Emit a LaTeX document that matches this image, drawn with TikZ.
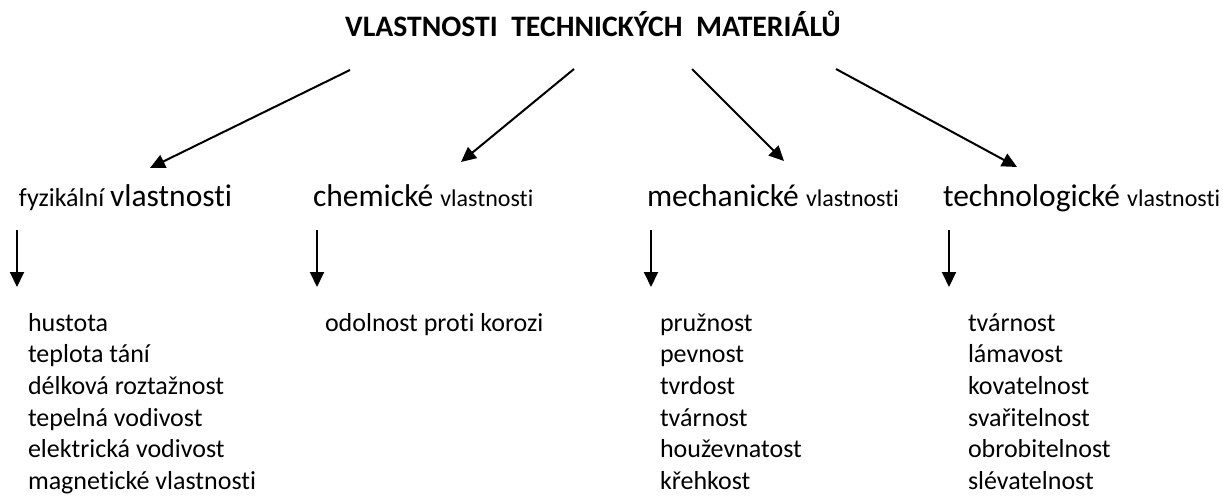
\documentclass[tikz,border=0pt]{standalone}
\usepackage{fontspec}
\setmainfont{Carlito}[Ligatures={NoCommon,NoRequired,NoContextual},Contextuals=NoAlternate]
\usetikzlibrary{arrows.meta}
\tikzset{
  txt/.style={anchor=base west, inner sep=0pt, outer sep=0pt},
  conn/.style={line width=2pt, -{Triangle[length=15pt,width=14pt]}},
}
\newcommand{\itemsize}{\fontsize{26}{31.7}\selectfont}
\newcommand{\titlesize}{\fontsize{29.7}{36}\selectfont}
\newcommand{\bigsize}{\fontsize{31.5}{38}\selectfont}
\newcommand{\smallsize}{\fontsize{24}{29}\selectfont}
\begin{document}
\begin{tikzpicture}[x=1pt,y=-1pt]
\useasboundingbox (0,0) rectangle (1223,497);
\node[anchor=base, inner sep=0pt] (title) at (593,37) {\titlesize\bfseries VLASTNOSTI\ \ TECHNICKÝCH\ \ MATERIÁLŮ};
% categories
\node[txt] (fyz) at (19,207) {\itemsize fyzikální \bigsize vlastnosti};
\node[txt] (chem) at (313,207) {\bigsize chemické \smallsize vlastnosti};
\node[txt] (mech) at (647,207) {\bigsize mechanické \smallsize vlastnosti};
\node[txt] (tech) at (943,207) {\bigsize technologické \smallsize vlastnosti};
% diagonal arrow ends
\coordinate (s1) at (350,70);  \coordinate (e1) at (150,168);
\coordinate (s2) at (574,69);  \coordinate (e2) at (461,162);
\coordinate (s3) at (692,69);  \coordinate (e3) at (784,161);
\coordinate (s4) at (836,69);  \coordinate (e4) at (1017,167);
\draw[conn] (s1) -- (e1);
\draw[conn] (s2) -- (e2);
\draw[conn] (s3) -- (e3);
\draw[conn] (s4) -- (e4);
% down arrows
\coordinate (d1a) at (17,230);  \coordinate (d1b) at (17,287);
\coordinate (d2a) at (317,230); \coordinate (d2b) at (317,287);
\coordinate (d3a) at (651,230); \coordinate (d3b) at (651,287);
\coordinate (d4a) at (949,230); \coordinate (d4b) at (949,287);
\draw[conn] (d1a) -- (d1b);
\draw[conn] (d2a) -- (d2b);
\draw[conn] (d3a) -- (d3b);
\draw[conn] (d4a) -- (d4b);
% lists
\foreach \t [count=\i] in {hustota, teplota tání, délková roztažnost, tepelná vodivost, elektrická vodivost, magnetické vlastnosti}
  \node[txt] (f\i) at (28,{331+31.7*(\i-1)}) {\itemsize \t};
\node[txt] (c1) at (325,331) {\itemsize odolnost proti korozi};
\foreach \t [count=\i] in {pružnost, pevnost, tvrdost, tvárnost, houževnatost, křehkost}
  \node[txt] (m\i) at (660,{331+31.7*(\i-1)}) {\itemsize \t};
\foreach \t [count=\i] in {tvárnost, lámavost, kovatelnost, svařitelnost, obrobitelnost, slévatelnost}
  \node[txt] (t\i) at (968,{331+31.7*(\i-1)}) {\itemsize \t};
\end{tikzpicture}
\end{document}
